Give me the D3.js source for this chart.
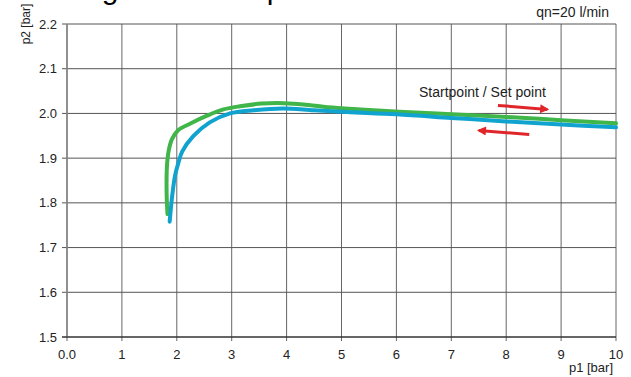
<!DOCTYPE html>
<html>
<head>
<meta charset="utf-8">
<script src="https://cdn.jsdelivr.net/npm/d3@7"></script>
<style>
	body { margin: 0; background: #fff; }
	svg { display: block; font-family: "Liberation Sans", Arial, sans-serif; }
</style>
</head>
<body>
<div id="chart"></div>
<script>
/**
 * Chart data.
 */
var xTicks = [0, 1, 2, 3, 4, 5, 6, 7, 8, 9, 10];
var xTickLabels = ["0.0", "1", "2", "3", "4", "5", "6", "7", "8", "9", "10"];
var yTicks = [1.5, 1.6, 1.7, 1.8, 1.9, 2.0, 2.1, 2.2];

// Green curve (rising pressure).
var greenP1 = [1.83, 1.815, 1.82, 1.85, 1.91, 2.02, 2.24, 2.55, 2.85, 3.15, 3.55, 3.95, 4.4, 4.75, 5.35, 6.05, 7.0, 8.0, 9.0, 10.0];
var greenP2 = [1.775, 1.82, 1.88, 1.915, 1.942, 1.962, 1.977, 1.995, 2.009, 2.016, 2.022, 2.023, 2.019, 2.014, 2.009, 2.004, 1.998, 1.992, 1.985, 1.978];

// Blue curve (falling pressure).
var blueP1 = [1.87, 1.89, 1.92, 1.97, 2.03, 2.1, 2.3, 2.6, 2.97, 3.4, 3.93, 4.5, 5.1, 6.0, 7.0, 8.0, 9.0, 10.0];
var blueP2 = [1.758, 1.785, 1.82, 1.862, 1.89, 1.915, 1.949, 1.98, 2.0, 2.007, 2.011, 2.007, 2.003, 1.998, 1.99, 1.982, 1.975, 1.969];

// Direction arrows [p1 start, p2 start, p1 end, p2 end].
var arrowRight = [7.85, 2.018, 8.75, 2.009];
var arrowLeft = [8.42, 1.953, 7.5, 1.962];

var width = 631,
	height = 377,
	margin = { top: 24, right: 15, bottom: 40, left: 67 };

var x = d3.scaleLinear().domain([0, 10]).range([margin.left, width - margin.right]);
var y = d3.scaleLinear().domain([1.5, 2.2]).range([height - margin.bottom, margin.top]);

var svg = d3.select("#chart").append("svg")
	.attr("width", width)
	.attr("height", height);

// Title, cut off at the top edge as in the reference.
svg.append("text")
	.attr("x", 25)
	.attr("y", -1)
	.attr("font-size", 30)
	.attr("fill", "#000")
	.text("Setting behaviour p2");

// Grid.
svg.append("g")
	.selectAll("line")
	.data(xTicks)
	.join("line")
	.attr("x1", d => x(d)).attr("x2", d => x(d))
	.attr("y1", y(2.2)).attr("y2", y(1.5) + 4)
	.attr("stroke", "#666")
	.attr("stroke-width", 1);

svg.append("g")
	.selectAll("line")
	.data(yTicks)
	.join("line")
	.attr("x1", x(0) - 5).attr("x2", x(10))
	.attr("y1", d => y(d)).attr("y2", d => y(d))
	.attr("stroke", "#555")
	.attr("stroke-width", 1);

// Axis lines.
svg.append("line")
	.attr("x1", x(0)).attr("x2", x(0))
	.attr("y1", y(2.2)).attr("y2", y(1.5))
	.attr("stroke", "#888")
	.attr("stroke-width", 1.6);

svg.append("line")
	.attr("x1", x(0) - 5).attr("x2", x(10))
	.attr("y1", y(1.5)).attr("y2", y(1.5))
	.attr("stroke", "#222")
	.attr("stroke-width", 1.2);

// Tick labels.
svg.append("g")
	.selectAll("text")
	.data(yTicks)
	.join("text")
	.attr("x", x(0) - 10)
	.attr("y", d => y(d) + 4.5)
	.attr("text-anchor", "end")
	.attr("font-size", 13)
	.attr("fill", "#222")
	.text(d => d3.format(".1f")(d));

svg.append("g")
	.selectAll("text")
	.data(xTicks)
	.join("text")
	.attr("x", d => x(d))
	.attr("y", y(1.5) + 22)
	.attr("text-anchor", "middle")
	.attr("font-size", 13)
	.attr("fill", "#222")
	.text((d, i) => xTickLabels[i]);

// Axis titles.
svg.append("text")
	.attr("x", 613)
	.attr("y", 372)
	.attr("text-anchor", "end")
	.attr("font-size", 13)
	.attr("fill", "#222")
	.text("p1 [bar]");

svg.append("text")
	.attr("transform", "translate(30,24) rotate(-90)")
	.attr("text-anchor", "middle")
	.attr("font-size", 12)
	.attr("fill", "#222")
	.text("p2 [bar]");

svg.append("text")
	.attr("x", 609)
	.attr("y", 17)
	.attr("text-anchor", "end")
	.attr("font-size", 14)
	.attr("fill", "#222")
	.text("qn=20 l/min");

// Curves.
var line = d3.line()
	.x(d => x(d[0]))
	.y(d => y(d[1]))
	.curve(d3.curveCatmullRom.alpha(0.5));

svg.append("path")
	.datum(d3.zip(greenP1, greenP2))
	.attr("d", line)
	.attr("fill", "none")
	.attr("stroke", "#40b54a")
	.attr("stroke-width", 4)
	.attr("stroke-linecap", "round");

svg.append("path")
	.datum(d3.zip(blueP1, blueP2))
	.attr("d", line)
	.attr("fill", "none")
	.attr("stroke", "#10a3cf")
	.attr("stroke-width", 4)
	.attr("stroke-linecap", "round");

// Annotation and arrows.
svg.append("text")
	.attr("x", 419)
	.attr("y", 97)
	.attr("font-size", 14)
	.attr("fill", "#222")
	.text("Startpoint / Set point");

svg.append("defs").append("marker")
	.attr("id", "head")
	.attr("viewBox", "0 0 10 10")
	.attr("refX", 8)
	.attr("refY", 5)
	.attr("markerWidth", 4.5)
	.attr("markerHeight", 3)
	.attr("markerUnits", "strokeWidth")
	.attr("orient", "auto")
	.append("path")
	.attr("d", "M0,0L10,5L0,10z")
	.attr("fill", "#e0262a");

[arrowRight, arrowLeft].forEach(function (a) {
	svg.append("line")
		.attr("x1", x(a[0])).attr("y1", y(a[1]))
		.attr("x2", x(a[2])).attr("y2", y(a[3]))
		.attr("stroke", "#e0262a")
		.attr("stroke-width", 3)
		.attr("marker-end", "url(#head)");
});
</script>
</body>
</html>
